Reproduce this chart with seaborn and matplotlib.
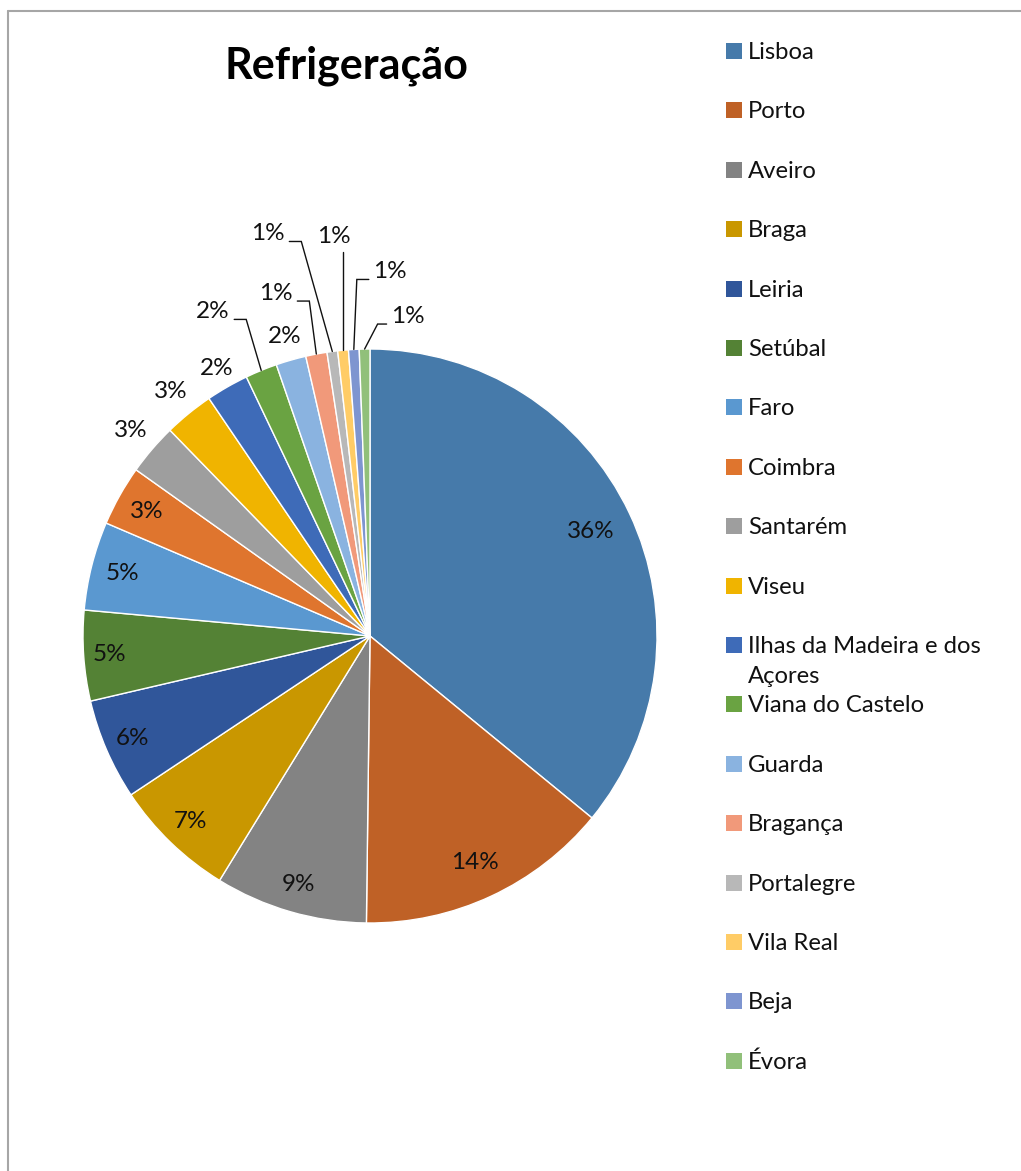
import matplotlib
matplotlib.use("Agg")
import numpy as np
import matplotlib.pyplot as plt
import seaborn as sns
from matplotlib.patches import Rectangle
from matplotlib.lines import Line2D

# ---------------- data ----------------
title = "Refrigeração"
districts = ["Lisboa", "Porto", "Aveiro", "Braga", "Leiria", "Setúbal", "Faro",
             "Coimbra", "Santarém", "Viseu", "Ilhas da Madeira e dos\nAçores",
             "Viana do Castelo", "Guarda", "Bragança", "Portalegre", "Vila Real",
             "Beja", "Évora"]
shares = [36.0, 14.3, 8.6, 6.9, 5.7, 5.1, 5.0, 3.4, 2.9, 2.8, 2.4, 1.8, 1.7,
          1.2, 0.6, 0.6, 0.6, 0.6]
colors_hex = ["#467AAA", "#BF6126", "#838383", "#C99700", "#30569A", "#548235",
              "#5A98D0", "#DF752E", "#9E9E9E", "#F0B400", "#3E6BB8", "#6AA342",
              "#8AB3E0", "#F1997A", "#B8B8B8", "#FFCC66", "#7E95D0", "#91C07A"]

# label placement (style): radial distance for plain labels, None -> leader line
label_r = [0.85, 0.87, 0.90, 0.90, 0.90, 0.91, 0.89, 0.89, 1.10, 1.10, 1.075,
           None, 1.085, None, None, None, None, None]
# leader specs in pixels relative to wedge edge point: (lx, ly, corner_x, side)
leader = {11: (-27, 51, -15, "right"), 13: (-19, 53, -7, "right"),
          14: (-43, 110, -31, "right"), 15: (0, 98, 0, "top"),
          16: (15, 70, 3, "left"), 17: (22, 25, 13, "left")}

# ---------------- figure ----------------
sns.set_theme(style="white")
plt.rcParams["font.family"] = ["Lato", "DejaVu Sans"]

W, H = 1021, 1171
fig = plt.figure(figsize=(W / 100, H / 100), dpi=100)
fig.patch.set_facecolor("white")
cx, cy, R = 370, 636, 287
ax = fig.add_axes([(cx - R) / W, (H - cy - R) / H, 2 * R / W, 2 * R / H])

palette = sns.color_palette(colors_hex)
wedges, _ = ax.pie(shares, colors=palette, startangle=90, counterclock=False,
                   radius=1, wedgeprops=dict(edgecolor="white", linewidth=1.0))
ax.set_xlim(-1, 1)
ax.set_ylim(-1, 1)
ax.axis("off")

total = sum(shares)
fs_lab = 17.5
tc = "#111111"
for i, w in enumerate(wedges):
    pct = f"{int(round(100 * shares[i] / total))}%"
    mid = np.deg2rad((w.theta1 + w.theta2) / 2)
    ux, uy = np.cos(mid), np.sin(mid)
    if label_r[i] is not None:
        r = label_r[i]
        ax.text(r * ux, r * uy, pct, ha="center", va="center", fontsize=fs_lab,
                color=tc)
    else:
        lx, ly, ccx, side = leader[i]
        px, py = ux, uy
        l0 = (px + lx / R, py + ly / R)
        c = (px + ccx / R, py + ly / R)
        ax.add_line(Line2D([l0[0], c[0], px], [l0[1], c[1], py], color=tc,
                           lw=1.0, solid_joinstyle="miter", clip_on=False))
        if side == "right":
            ax.text(l0[0] - 5 / R, l0[1] + 8 / R, pct, ha="right", va="center",
                    fontsize=fs_lab, color=tc)
        elif side == "left":
            ax.text(l0[0] + 4 / R, l0[1] + 8 / R, pct, ha="left", va="center",
                    fontsize=fs_lab, color=tc)
        else:
            ax.text(l0[0] - 9 / R, l0[1] + 5 / R, pct, ha="center", va="bottom",
                    fontsize=fs_lab, color=tc)

# title
fig.text(346 / W, 1 - 78 / H, title, ha="center", va="baseline", fontsize=31,
         fontweight="bold", color="black")

# legend (manual, Excel-like spacing)
for i, name in enumerate(districts):
    yc = 51 + i * 59.4
    fig.patches.append(Rectangle((726 / W, 1 - (yc + 8) / H), 16 / W, 16 / H,
                                 transform=fig.transFigure, facecolor=palette[i],
                                 edgecolor="none"))
    for k, line in enumerate(name.split("\n")):
        fig.text(748 / W, 1 - (yc + 8 + 30 * k) / H, line, ha="left",
                 va="baseline", fontsize=17.2, color=tc)

# chart-area frame (top and left edges visible)
fig.add_artist(Line2D([7.5 / W, 1], [1 - 10.5 / H, 1 - 10.5 / H],
                      transform=fig.transFigure, color="#A6A6A6", lw=1.5))
fig.add_artist(Line2D([7.5 / W, 7.5 / W], [0, 1 - 10.5 / H],
                      transform=fig.transFigure, color="#A6A6A6", lw=1.5))

fig.savefig("out.png", dpi=100, facecolor="white")
